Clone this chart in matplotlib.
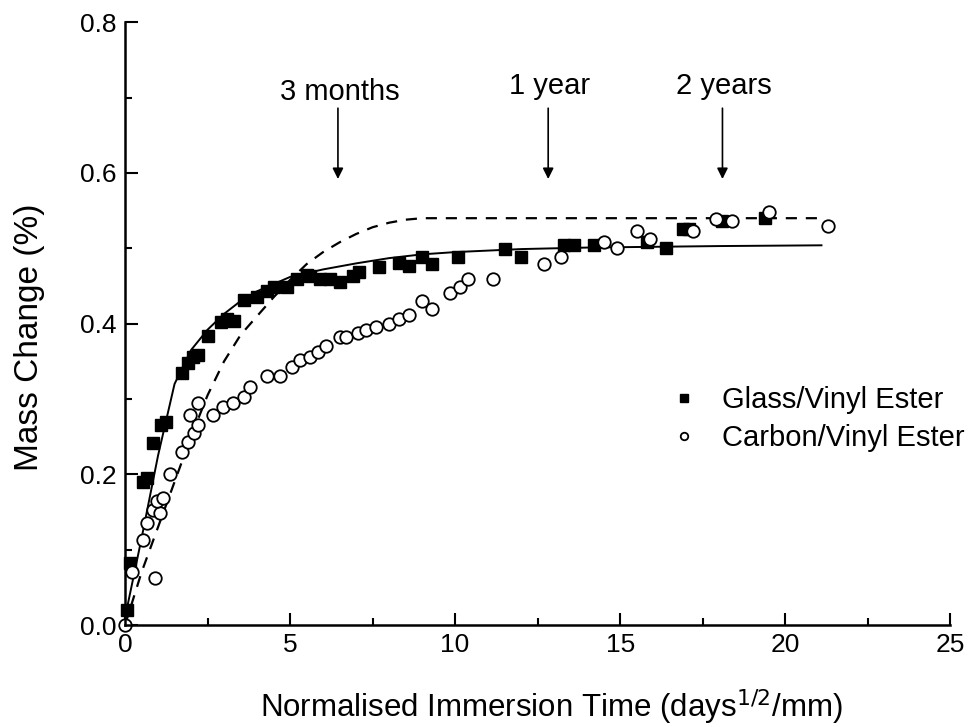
import matplotlib
matplotlib.use("Agg")
import matplotlib.pyplot as plt
from matplotlib.ticker import MultipleLocator

plt.rcParams['font.family'] = ['Liberation Sans', 'DejaVu Sans']

# Glass/Vinyl Ester measurements (filled squares)
glass_x = [0.05, 0.15, 0.55, 0.65, 0.85, 1.1, 1.25, 1.73, 1.9, 2.06, 2.2, 2.5, 2.9, 3.1, 3.3,
           3.6, 4.0, 4.3, 4.5, 4.9, 5.2, 5.5, 5.6, 5.9, 6.2, 6.5, 6.9, 7.1, 7.7, 8.3, 8.6,
           9.0, 9.3, 10.1, 11.5, 12.0, 13.3, 13.6, 14.2, 15.8, 16.4, 16.9, 17.1, 18.1, 19.4]
glass_y = [0.02, 0.082, 0.19, 0.195, 0.242, 0.266, 0.27, 0.335, 0.348, 0.356, 0.359, 0.383, 0.402,
           0.406, 0.403, 0.432, 0.436, 0.443, 0.449, 0.449, 0.459, 0.465, 0.463, 0.459, 0.459,
           0.455, 0.463, 0.468, 0.475, 0.481, 0.476, 0.489, 0.479, 0.489, 0.499, 0.488, 0.505,
           0.505, 0.505, 0.509, 0.501, 0.525, 0.525, 0.536, 0.54]

# Carbon/Vinyl Ester measurements (open circles)
carbon_x = [0.0, 0.2, 0.9, 0.55, 0.65, 0.85, 1.06, 0.97, 1.15, 1.36, 1.73, 1.9, 2.1, 1.97, 2.2,
            2.2, 2.67, 2.97, 3.27, 3.6, 3.8, 4.3, 4.7, 5.06, 5.3, 5.6, 5.85, 6.1, 6.5, 6.7,
            7.06, 7.3, 7.6, 8.0, 8.3, 8.6, 9.0, 9.3, 9.85, 10.15, 10.4, 11.15, 12.7, 13.2,
            14.5, 14.9, 15.5, 15.9, 17.2, 17.9, 18.4, 19.5, 21.3]
carbon_y = [0.0, 0.07, 0.062, 0.113, 0.136, 0.153, 0.149, 0.164, 0.169, 0.2, 0.229, 0.243, 0.255,
            0.279, 0.295, 0.266, 0.279, 0.29, 0.295, 0.302, 0.316, 0.33, 0.33, 0.342, 0.352,
            0.356, 0.362, 0.37, 0.382, 0.382, 0.388, 0.392, 0.396, 0.399, 0.406, 0.412, 0.43,
            0.419, 0.441, 0.449, 0.459, 0.459, 0.479, 0.489, 0.509, 0.501, 0.523, 0.512, 0.523,
            0.539, 0.536, 0.548, 0.529]

# fitted curves
fit_glass_x = [0, 0.5, 1.0, 1.5, 2.0, 2.5, 3.0, 3.5, 4.0, 5.0, 6.0, 7.0, 8.0, 9.0, 10, 12, 14,
               16, 18, 21.1]
fit_glass_y = [0.01, 0.115, 0.225, 0.32, 0.365, 0.392, 0.413, 0.43, 0.443, 0.462, 0.472, 0.48,
               0.487, 0.492, 0.495, 0.499, 0.501, 0.502, 0.503, 0.504]
fit_carbon_x = [0, 0.5, 1.0, 1.5, 2.0, 2.5, 3.0, 3.5, 4.0, 4.5, 5.0, 5.5, 6.0, 6.5, 7.0, 7.5,
                8.0, 8.5, 9.0, 12, 15, 18, 21.1]
fit_carbon_y = [0.0, 0.07, 0.13, 0.19, 0.25, 0.305, 0.35, 0.385, 0.41, 0.435, 0.458, 0.479,
                0.495, 0.508, 0.519, 0.528, 0.534, 0.538, 0.54, 0.54, 0.54, 0.54, 0.54]

# time markers
marks = ['3 months', '1 year', '2 years']
mark_x = [6.45, 12.82, 18.1]

fig = plt.figure(figsize=(9.8, 7.27), dpi=100)
ax = fig.add_axes([0.1276, 0.1403, 0.842, 0.829])

ax.plot(fit_glass_x, fit_glass_y, 'k-', lw=1.4)
ax.plot(fit_carbon_x, fit_carbon_y, 'k--', lw=1.6, dashes=(5, 4))
ax.plot(glass_x, glass_y, 's', color='k', ms=9, label='Glass/Vinyl Ester', clip_on=False)
ax.plot(carbon_x, carbon_y, 'o', mfc='white', mec='k', mew=1.3, ms=9,
        label='Carbon/Vinyl Ester', clip_on=False)

# text sits a little lower for the first marker
text_y = {'3 months': 0.707, '1 year': 0.715, '2 years': 0.715}
for name, xm in zip(marks, mark_x):
    ax.annotate('', xy=(xm, 0.592), xytext=(xm, 0.686),
                arrowprops=dict(arrowstyle='-|>', color='k', lw=1.2, mutation_scale=16,
                                shrinkA=0, shrinkB=0))
    ax.text(xm + 0.05, text_y[name], name, ha='center', va='center', fontsize=21)

ax.set_xlim(0, 25)
ax.set_ylim(0, 0.8)
ax.xaxis.set_major_locator(MultipleLocator(5))
ax.xaxis.set_minor_locator(MultipleLocator(2.5))
ax.yaxis.set_major_locator(MultipleLocator(0.2))
ax.yaxis.set_minor_locator(MultipleLocator(0.1))
ax.yaxis.set_major_formatter(plt.FormatStrFormatter('%.1f'))
ax.tick_params(which='major', direction='in', length=9, width=1.5, labelsize=19, pad=6)
ax.tick_params(which='minor', direction='in', length=5, width=1.5)

for side in ['top', 'right']:
    ax.spines[side].set_visible(False)
for side in ['left', 'bottom']:
    ax.spines[side].set_linewidth(1.8)

ax.set_xlabel('Normalised Immersion Time (days$^{1/2}$/mm)', fontsize=22.5)
ax.xaxis.set_label_coords(0.516, -0.104)
ax.set_ylabel('Mass Change (%)', fontsize=24)
ax.yaxis.set_label_coords(-0.097, 0.478)

ax.legend(loc='upper left', bbox_to_anchor=(0.628, 0.44), frameon=False, fontsize=21,
          markerscale=0.6, handlelength=1.0, handletextpad=0.8, labelspacing=0.35)

fig.savefig('out.png', dpi=100)
